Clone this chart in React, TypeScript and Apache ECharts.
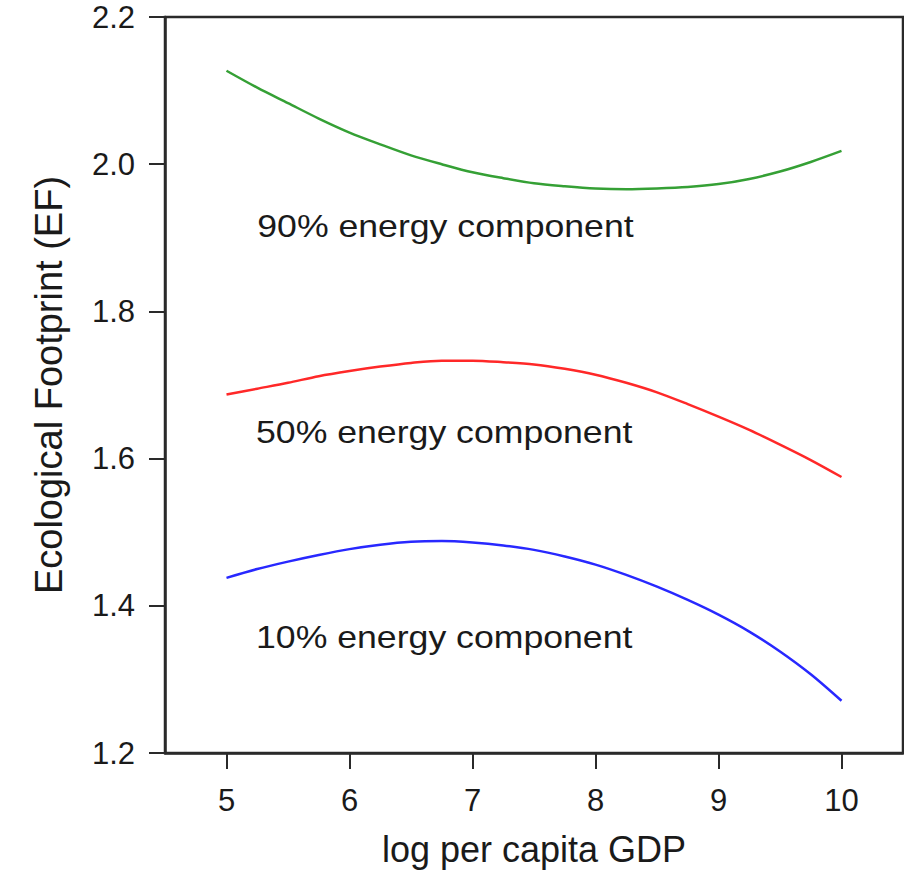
import React, { useEffect, useRef } from "react";
import * as echarts from "echarts";

const xValues = [5, 5.25, 5.5, 5.75, 6, 6.25, 6.5, 6.75, 7, 7.25, 7.5, 7.75, 8, 8.25, 8.5, 8.75, 9, 9.25, 9.5, 9.75, 10];
const ef90 = [2.127, 2.104, 2.083, 2.062, 2.043, 2.027, 2.012, 2.0, 1.989, 1.981, 1.974, 1.97, 1.967, 1.966, 1.967, 1.969, 1.973, 1.98, 1.99, 2.003, 2.018];
const ef50 = [1.687, 1.695, 1.703, 1.712, 1.719, 1.725, 1.73, 1.733, 1.733, 1.731, 1.728, 1.722, 1.714, 1.703, 1.69, 1.674, 1.657, 1.639, 1.619, 1.598, 1.575];
const ef10 = [1.438, 1.45, 1.46, 1.469, 1.477, 1.483, 1.487, 1.488, 1.486, 1.482, 1.476, 1.467, 1.456, 1.442, 1.426, 1.408, 1.388, 1.365, 1.338, 1.307, 1.271];
const xTicks = [5, 6, 7, 8, 9, 10];
const annTexts = ["90% energy component", "50% energy component", "10% energy component"];
const annX = [5.25, 5.24, 5.24];
const annY = [1.916, 1.636, 1.357];

const FONT = "'Liberation Sans', Arial, Helvetica, sans-serif";
const INK = "#1a1a1a";

export default function App() {
  const ref = useRef<HTMLDivElement>(null);
  useEffect(() => {
    if (!ref.current) return;
    const chart = echarts.init(ref.current, null, { renderer: "svg" });
    const mk = (arr: number[]) => xValues.map((x, i) => [x, arr[i]]);
    chart.setOption({
      animation: false,
      backgroundColor: "#ffffff",
      textStyle: { fontFamily: FONT },
      grid: {
        left: 165,
        right: 1,
        top: 17,
        bottom: 117,
        show: true,
        borderColor: "#2a2a2a",
        borderWidth: 2.5,
      },
      xAxis: {
        type: "value",
        min: 4.5,
        max: 10.5,
        name: "log per capita GDP",
        nameLocation: "middle",
        nameGap: 78,
        nameTextStyle: { fontSize: 36, color: INK, fontFamily: FONT },
        splitLine: { show: false },
        axisLine: { show: true, onZero: false, lineStyle: { color: "#2a2a2a", width: 2.5 } },
        axisTick: {
          show: true,
          inside: false,
          length: 16,
          customValues: xTicks,
          lineStyle: { color: "#2a2a2a", width: 2 },
        },
        axisLabel: {
          customValues: xTicks,
          fontSize: 31,
          color: INK,
          margin: 32,
          fontFamily: FONT,
        },
      },
      yAxis: {
        type: "value",
        min: 1.2,
        max: 2.2,
        interval: 0.2,
        name: "Ecological Footprint (EF)",
        nameLocation: "middle",
        nameGap: 97,
        nameRotate: 90,
        nameTextStyle: { fontSize: 38, color: INK, fontFamily: FONT },
        splitLine: { show: false },
        axisLine: { show: true, onZero: false, lineStyle: { color: "#2a2a2a", width: 2.5 } },
        axisTick: { show: true, inside: false, length: 16, lineStyle: { color: "#2a2a2a", width: 2 } },
        axisLabel: {
          fontSize: 31,
          color: INK,
          margin: 30,
          fontFamily: FONT,
          formatter: (v: number) => v.toFixed(1),
        },
      },
      series: [
        {
          name: "90%",
          type: "line",
          data: mk(ef90),
          smooth: 0.3,
          showSymbol: false,
          lineStyle: { color: "#35a035", width: 2.5 },
        },
        {
          name: "50%",
          type: "line",
          data: mk(ef50),
          smooth: 0.3,
          showSymbol: false,
          lineStyle: { color: "#ff2828", width: 2.5 },
        },
        {
          name: "10%",
          type: "line",
          data: mk(ef10),
          smooth: 0.3,
          showSymbol: false,
          lineStyle: { color: "#2828ff", width: 2.5 },
        },
      ],
    });
    const graphics = annTexts.map((t, i) => {
      const p = chart.convertToPixel({ gridIndex: 0 }, [annX[i], annY[i]]) as number[];
      return {
        type: "text",
        x: p[0],
        y: p[1],
        scaleX: 1.15,
        style: {
          text: t,
          fontSize: 31,
          fontFamily: FONT,
          fill: INK,
          align: "left",
          verticalAlign: "middle",
        },
      };
    });
    chart.setOption({ graphic: graphics });
    return () => chart.dispose();
  }, []);
  return (
    <div
      ref={ref}
      style={{ position: "fixed", left: 0, top: 0, width: 904, height: 872, background: "#fff" }}
    />
  );
}
